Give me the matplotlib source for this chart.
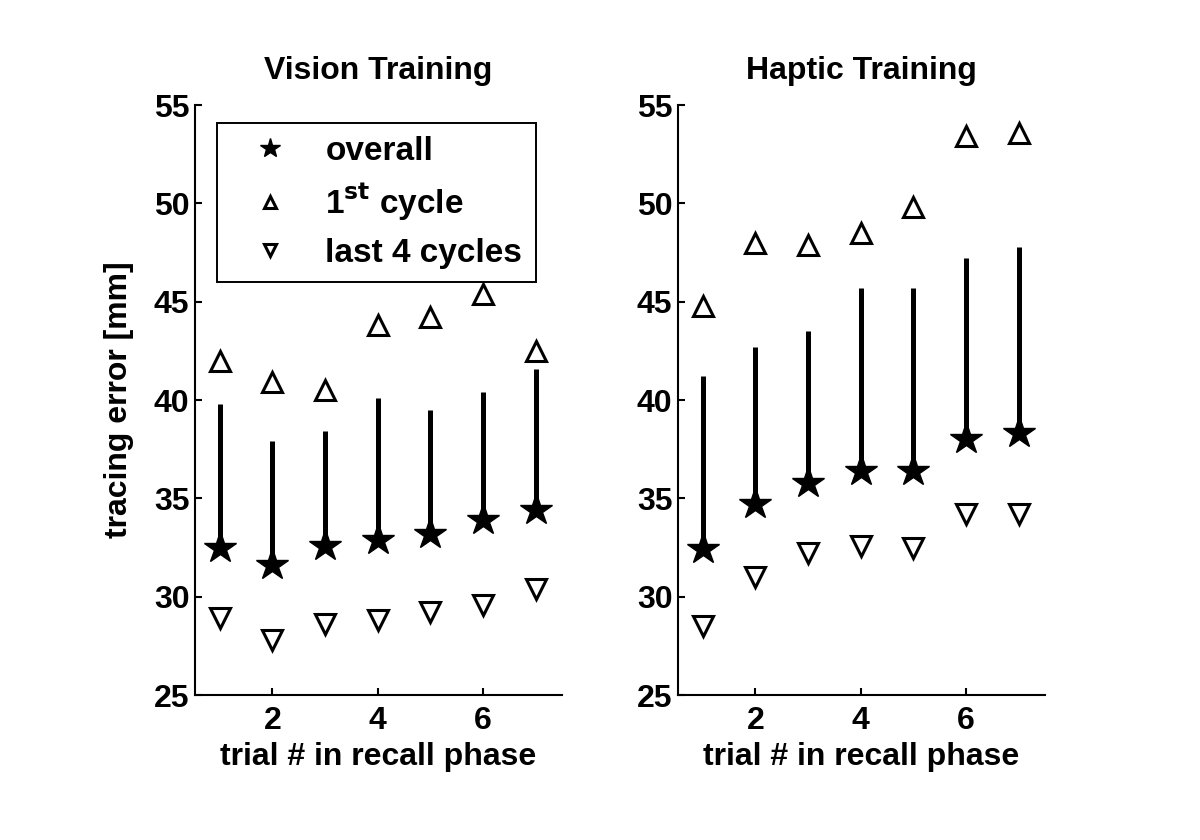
import matplotlib
matplotlib.use("Agg")
import matplotlib.pyplot as plt
import numpy as np

trials = np.arange(1, 8)

# Vision training
vis_first = [42.0, 40.9, 40.5, 43.8, 44.2, 45.4, 42.5]
vis_overall = [32.5, 31.6, 32.6, 32.9, 33.2, 33.9, 34.4]
vis_top = [39.8, 37.9, 38.4, 40.1, 39.5, 40.4, 41.6]
vis_last4 = [28.9, 27.8, 28.6, 28.8, 29.2, 29.6, 30.4]

# Haptic training
hap_first = [44.8, 48.0, 47.9, 48.5, 49.8, 53.4, 53.6]
hap_overall = [32.4, 34.7, 35.8, 36.4, 36.4, 38.0, 38.3]
hap_top = [41.2, 42.7, 43.5, 45.7, 45.7, 47.2, 47.8]
hap_last4 = [28.5, 31.0, 32.2, 32.6, 32.5, 34.2, 34.2]

plt.rcParams['font.family'] = ['Liberation Sans', 'DejaVu Sans']
plt.rcParams['font.weight'] = 'bold'
plt.rcParams['mathtext.default'] = 'bf'
fs = 23

fig = plt.figure(figsize=(12, 8.4), dpi=100)
ax1 = fig.add_axes([0.1625, 0.1726, 0.306, 0.7024])
ax2 = fig.add_axes([0.565, 0.1726, 0.306, 0.7024])

panels = [
    (ax1, "Vision Training", vis_first, vis_overall, vis_top, vis_last4),
    (ax2, "Haptic Training", hap_first, hap_overall, hap_top, hap_last4),
]

for ax, title, first, overall, top, last4 in panels:
    ax.vlines(trials, overall, top, color="black", linewidth=3.6)
    ax.plot(trials, overall, linestyle="none", marker="*", markersize=24,
            color="black", label="overall")
    ax.plot(trials, first, linestyle="none", marker="^", markersize=15,
            markerfacecolor="white", markeredgecolor="black",
            markeredgewidth=2.2, label=r"1$^{\mathbf{st}}$ cycle")
    ax.plot(trials, last4, linestyle="none", marker="v", markersize=15,
            markerfacecolor="white", markeredgecolor="black",
            markeredgewidth=2.2, label="last 4 cycles")
    ax.set_xlim(0.53, 7.5)
    ax.set_ylim(25, 55)
    ax.set_xticks([2, 4, 6])
    ax.set_yticks(np.arange(25, 56, 5))
    ax.spines["top"].set_visible(False)
    ax.spines["right"].set_visible(False)
    ax.spines["left"].set_linewidth(1.5)
    ax.spines["bottom"].set_linewidth(1.5)
    ax.tick_params(direction="in", length=5, width=1.5, labelsize=fs)
    ax.tick_params(axis="y", pad=4)
    ax.tick_params(axis="x", pad=8)
    ax.set_title(title, fontsize=fs, fontweight="bold", pad=19)
    ax.set_xlabel("trial # in recall phase", fontsize=fs, fontweight="bold",
                  labelpad=4)

ax1.set_ylabel("tracing error [mm]", fontsize=fs, fontweight="bold", labelpad=14)

leg = ax1.legend(loc="upper left", bbox_to_anchor=(0.06, 0.97),
                 borderaxespad=0, prop={"size": 24, "weight": "bold"},
                 frameon=True, fancybox=False, framealpha=1,
                 markerscale=0.6, labelspacing=0.45, handletextpad=0.45,
                 borderpad=0.4, handlelength=2.4)
leg.get_frame().set_edgecolor("black")
leg.get_frame().set_linewidth(1.4)

fig.savefig("out.png", dpi=100)
